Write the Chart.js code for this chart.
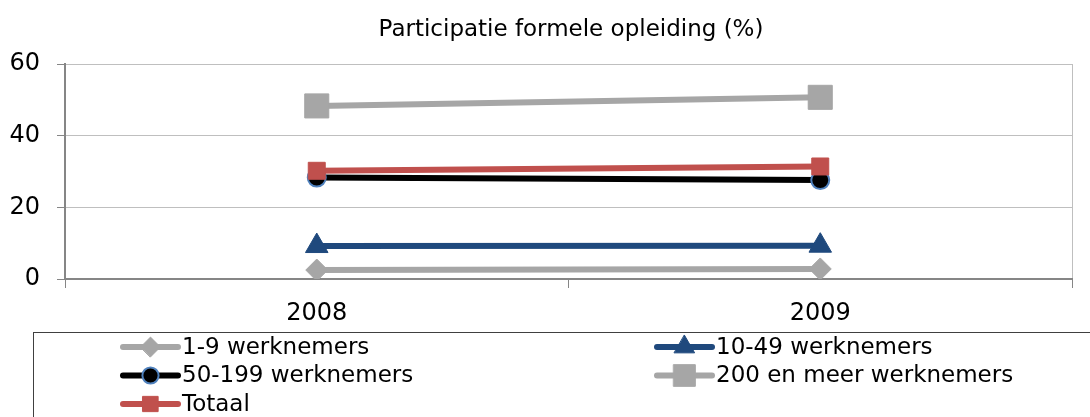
<!DOCTYPE html>
<html lang="nl">
<head>
  <meta charset="UTF-8">
  <title>Participatie formele opleiding</title>
  <script src="https://cdn.jsdelivr.net/npm/chart.js"></script>
  <style>
    body { margin: 0; background: #fff; }
    #chart-container { width: 1090px; height: 417px; position: relative; }
  </style>
</head>
<body>
  <div id="chart-container">
    <canvas id="chart"></canvas>
  </div>

  <script>
    const years = ['2008', '2009'];
    const seriesNames = ['1-9 werknemers', '10-49 werknemers', '50-199 werknemers', '200 en meer werknemers', 'Totaal'];
    const val1_9 = [2.5, 2.8];
    const val10_49 = [9.2, 9.3];
    const val50_199 = [28.3, 27.6];
    const val200 = [48.3, 50.7];
    const valTotaal = [30.2, 31.4];
    const yTicks = [0, 20, 40, 60];

    const FONT = 'DejaVu Sans';

    // titel + legenda zoals in het origineel
    const extras = {
      id: 'extras',
      afterDraw(chart) {
        const ctx = chart.ctx;
        ctx.save();
        ctx.fillStyle = '#000';
        ctx.font = '23px "' + FONT + '"';
        ctx.textAlign = 'center';
        ctx.textBaseline = 'middle';
        ctx.fillText('Participatie formele opleiding (%)', 571, 30);

        ctx.strokeStyle = '#404040';
        ctx.lineWidth = 1;
        ctx.strokeRect(33.5, 332.5, 1100, 100);

        chart.data.datasets.forEach((ds, i) => {
          const col = i % 2, row = Math.floor(i / 2);
          const x0 = col ? 657 : 123;
          const y = 347 + row * 28.5;
          ctx.strokeStyle = ds.borderColor;
          ctx.lineWidth = 6;
          ctx.lineCap = 'round';
          ctx.beginPath();
          ctx.moveTo(x0, y);
          ctx.lineTo(x0 + 55, y);
          ctx.stroke();
          ctx.fillStyle = ds.pointBackgroundColor;
          ctx.strokeStyle = ds.pointBorderColor;
          ctx.lineWidth = ds.pointBorderWidth;
          Chart.helpers.drawPoint(ctx, {
            pointStyle: ds.pointStyle, radius: ds.pointRadius * 0.9,
            rotation: 0, borderWidth: ds.pointBorderWidth
          }, x0 + 27.5, y);
          ctx.fillStyle = '#000';
          ctx.font = '23px "' + FONT + '"';
          ctx.textAlign = 'left';
          ctx.textBaseline = 'middle';
          ctx.fillText(ds.label, x0 + 59, y + 1);
        });
        ctx.restore();
      }
    };

    function serie(label, data, color, style, radius, fill, border, bw, order) {
      return {
        label: label, data: data, borderColor: color, borderWidth: 6,
        pointStyle: style, pointRadius: radius, pointHoverRadius: radius,
        pointBackgroundColor: fill, pointBorderColor: border, pointBorderWidth: bw,
        order: order
      };
    }

    new Chart(document.getElementById('chart'), {
      type: 'line',
      data: {
        labels: years,
        datasets: [
          serie(seriesNames[0], val1_9, '#a6a6a6', 'rectRot', 11, '#a6a6a6', '#a6a6a6', 1, 5),
          serie(seriesNames[1], val10_49, '#1f497d', 'triangle', 13, '#1f497d', '#1f497d', 1, 4),
          serie(seriesNames[2], val50_199, '#000000', 'circle', 9, '#000000', '#4f81bd', 2, 3),
          serie(seriesNames[3], val200, '#a6a6a6', 'rect', 17, '#a6a6a6', '#a6a6a6', 1, 2),
          serie(seriesNames[4], valTotaal, '#c0504d', 'rect', 12, '#c0504d', '#c0504d', 1, 1)
        ]
      },
      options: {
        responsive: true,
        maintainAspectRatio: false,
        animation: false,
        layout: { padding: { top: 64, right: 16, left: 0, bottom: 90 } },
        plugins: { legend: { display: false }, tooltip: { enabled: false } },
        scales: {
          x: {
            offset: true,
            afterFit(scale) { scale.height = 48; },
            grid: {
              offset: true,
              color: c => (c.index === undefined ? '#bfbfbf' : 'rgba(0,0,0,0)'),
              tickColor: '#868686',
              tickLength: 9
            },
            border: { color: '#868686', width: 2 },
            ticks: { color: '#000', padding: 11, font: { family: FONT, size: 24 } }
          },
          y: {
            min: 0, max: 60,
            afterFit(scale) { scale.width = 65; },
            afterBuildTicks(scale) { scale.ticks = yTicks.map(v => ({ value: v })); },
            grid: { color: '#bfbfbf', tickColor: '#868686', tickLength: 8 },
            border: { color: '#868686', width: 2 },
            ticks: { color: '#000', padding: 17, font: { family: FONT, size: 24 } }
          }
        }
      },
      plugins: [extras]
    });
  </script>
</body>
</html>
